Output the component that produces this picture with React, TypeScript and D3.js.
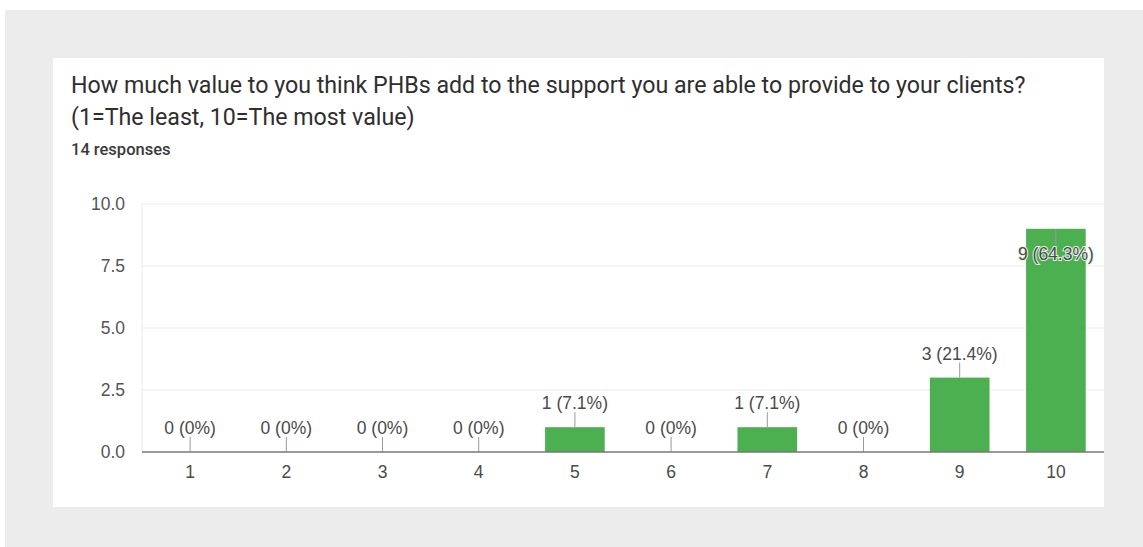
import React from "react";
import * as d3 from "d3";

const categories = ["1", "2", "3", "4", "5", "6", "7", "8", "9", "10"];
const counts = [0, 0, 0, 0, 1, 0, 1, 0, 3, 9];
const percents = ["0%", "0%", "0%", "0%", "7.1%", "0%", "7.1%", "0%", "21.4%", "64.3%"];
const yTicks = [0, 2.5, 5, 7.5, 10];
const titleLines = [
  "How much value to you think PHBs add to the support you are able to provide to your clients?",
  "(1=The least, 10=The most value)",
];
const subtitle = "14 responses";

export default function App() {
  const W = 1143, H = 547;
  const left = 142, right = 1104, top = 204, bottom = 452;
  const x = d3.scaleBand<string>().domain(categories).range([left, right]).paddingInner(0.38).paddingOuter(0.19);
  const y = d3.scaleLinear().domain([0, 10]).range([bottom, top]);
  const font = "'Liberation Sans', Arial, sans-serif";
  return (
    <svg width={W} height={H} style={{ position: "absolute", left: 0, top: 0 }}>
      <rect x={5} y={10} width={W - 5} height={H - 10} fill="#ececec" />
      <rect x={53} y={58} width={1051} height={449} fill="#ffffff" />
      {titleLines.map((t, i) => (
        <text key={i} x={71} y={93 + i * 32} fontFamily="Roboto, sans-serif" fontSize={23.2} fill="#2e2e2e">
          {t}
        </text>
      ))}
      <text x={71} y={155} fontFamily="Roboto, sans-serif" fontSize={16.5} fontWeight={500} fill="#3a3a3a">
        {subtitle}
      </text>
      {yTicks.map((t) => (
        <g key={t}>
          {t > 0 && <line x1={left} x2={right} y1={y(t)} y2={y(t)} stroke="#ebebeb" strokeWidth={1} />}
          <text x={125} y={y(t)} dy="0.35em" textAnchor="end" fontFamily={font} fontSize={17.5} fill="#555">
            {d3.format(".1f")(t)}
          </text>
        </g>
      ))}
      <line x1={left} x2={left} y1={top} y2={bottom} stroke="#ebebeb" />
      {categories.map((c, i) => {
        const bx = x(c)!;
        const cx = bx + x.bandwidth() / 2;
        const yt = y(counts[i]);
        const inside = counts[i] >= 8;
        const labelBase = inside ? yt + 31 : yt - 18;
        const lineTop = inside ? yt : yt - 15;
        const lineBot = inside ? yt + 16 : yt;
        return (
          <g key={c}>
            {counts[i] > 0 && (
              <rect x={bx} y={yt} width={x.bandwidth()} height={bottom - yt} fill="#4caf50" />
            )}
            <line x1={cx} x2={cx} y1={lineTop} y2={lineBot} stroke="#999" strokeWidth={1} />
            <text
              x={cx}
              y={labelBase}
              textAnchor="middle"
              fontFamily={font}
              fontSize={17.5}
              fill="#4a4a4a"
              stroke={inside ? "#e8f5e9" : "none"}
              strokeWidth={inside ? 2 : 0}
              style={{ paintOrder: "stroke" }}
            >
              {`${counts[i]} (${percents[i]})`}
            </text>
            <text x={cx} y={478} textAnchor="middle" fontFamily={font} fontSize={17.5} fill="#4a4a4a">
              {c}
            </text>
          </g>
        );
      })}
      <line x1={left} x2={right} y1={bottom} y2={bottom} stroke="#777" strokeWidth={1.5} />
    </svg>
  );
}
